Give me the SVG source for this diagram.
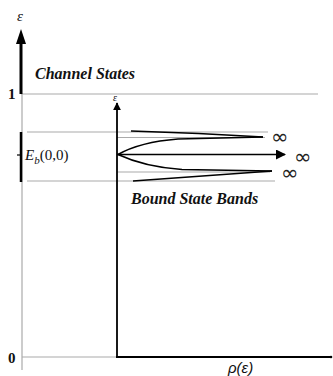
<svg xmlns="http://www.w3.org/2000/svg" width="333" height="376" viewBox="0 0 333 376">
<style>
.g{stroke:#aaaaaa;stroke-width:1.2;fill:none}
.k{stroke:#000;fill:none}
.lbl{font-family:"Liberation Serif",serif;font-weight:bold;font-style:italic;font-size:16px;fill:#111}
.num{font-family:"Liberation Serif",serif;font-weight:bold;font-size:15px;fill:#111}
.eps{font-family:"Liberation Serif",serif;font-style:italic;fill:#111}
.inf{font-family:"DejaVu Sans",sans-serif;font-size:21px;fill:#222}
</style>
<defs>
<marker id="ah" viewBox="0 0 10 10" refX="9" refY="5" markerWidth="8" markerHeight="8" markerUnits="userSpaceOnUse" orient="auto"><path d="M0,0 L10,5 L0,10 z" fill="#000"/></marker>
<marker id="ahBig" viewBox="0 0 10 10" refX="9" refY="5" markerWidth="14" markerHeight="10" markerUnits="userSpaceOnUse" orient="auto"><path d="M0,0 L10,5 L0,10 z" fill="#000"/></marker>
</defs>
<rect width="333" height="376" fill="#fff"/>
<g id="connectors">
<line class="g" x1="22" y1="94" x2="22" y2="370"/>
<line class="g" x1="21" y1="94" x2="318" y2="94"/>
<line class="g" x1="27" y1="132" x2="268" y2="132"/>
<line class="g" x1="117" y1="137.5" x2="265" y2="137.5"/>
<line class="g" x1="117" y1="172" x2="270" y2="172"/>
<line class="g" x1="27" y1="181" x2="275" y2="181"/>
<line class="g" x1="22" y1="357" x2="117" y2="357"/>
<line class="k" stroke-width="3" x1="21" y1="94" x2="21" y2="42"/>
<path d="M16,44 L21,29 L26,44 z" fill="#000"/>
<line class="k" stroke-width="2.5" x1="21" y1="132" x2="21" y2="182"/>
<line class="k" stroke-width="1.2" x1="17" y1="155" x2="21" y2="155"/>
<line class="k" stroke-width="1.8" x1="117" y1="357" x2="117" y2="103" marker-end="url(#ah)"/>
<line class="k" stroke-width="1.8" x1="116" y1="357" x2="331" y2="357"/>
<circle cx="331" cy="357" r="1.3" fill="#000"/>
<line class="k" stroke-width="1.6" x1="117" y1="154.5" x2="285" y2="154.5" marker-end="url(#ahBig)"/>
<path class="k" stroke-width="1.6" d="M131,131 Q200,133 263,137"/>
<path class="k" stroke-width="1.6" d="M118,154.5 Q140,142 178,139 L263,137"/>
<path class="k" stroke-width="1.6" d="M118,154.5 Q145,167 182,169.5 L272,171"/>
<path class="k" stroke-width="1.6" d="M133,181 Q200,176 272,171"/>
</g>
<g id="labels">
<text class="eps" x="17" y="21" font-size="15">ε</text>
<text class="eps" x="113" y="101" font-size="10">ε</text>
<text class="lbl" x="35" y="79">Channel States</text>
<text class="lbl" x="131" y="204">Bound State Bands</text>
<text class="num" x="8" y="99">1</text>
<text class="num" x="8" y="363">0</text>
<text font-family="Liberation Serif,serif" font-size="15" fill="#111" x="25" y="160"><tspan font-style="italic">E</tspan><tspan font-style="italic" font-size="11" dy="4">b</tspan><tspan dy="-4">(0,0)</tspan></text>
<text class="inf" x="271" y="144">∞</text>
<text class="inf" x="294" y="164">∞</text>
<text class="inf" x="281" y="180">∞</text>
<text font-family="Liberation Sans,sans-serif" font-style="italic" font-size="15" fill="#111" x="228" y="373">ρ(ε)</text>
</g>
</svg>
